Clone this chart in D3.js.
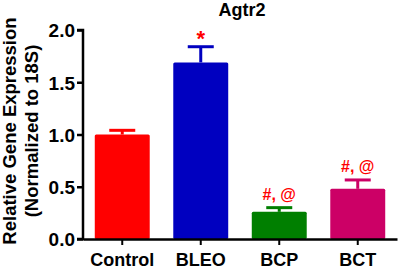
<!DOCTYPE html>
<html>
<head>
<meta charset="utf-8">
<script src="https://cdn.jsdelivr.net/npm/d3@7"></script>
<style>
  body { margin: 0; background: #fff; }
  text { font-family: "Liberation Sans", Arial, sans-serif; font-weight: bold; }
</style>
</head>
<body>
<svg id="chart" width="401" height="271"></svg>
<script>
// Chart data
const groups = ['Control', 'BLEO', 'BCP', 'BCT'];
const means = [1.0, 1.69, 0.26, 0.48];
const errors = [0.04, 0.15, 0.04, 0.085];
const marks = ['', '*', '#, @', '#, @'];
const colors = ['#ff0000', '#0000c0', '#007f00', '#cc0066'];
const yTicks = [0, 0.5, 1.0, 1.5, 2.0];

const svg = d3.select('#chart');
const margin = { left: 83, right: 4, top: 30, bottom: 32 };
const width = 401 - margin.left - margin.right;
const height = 271 - margin.top - margin.bottom;

const g = svg.append('g')
  .attr('transform', `translate(${margin.left},${margin.top})`);

const x = d3.scaleBand()
  .domain(groups)
  .range([0, width])
  .paddingInner(0.3)
  .paddingOuter(0.15);

const y = d3.scaleLinear()
  .domain([0, 2])
  .range([height, 0]);

// Bars
g.selectAll('.bar')
  .data(groups)
  .enter()
  .append('rect')
  .attr('class', 'bar')
  .attr('x', d => x(d))
  .attr('y', (d, i) => y(means[i]))
  .attr('width', x.bandwidth())
  .attr('height', (d, i) => height - y(means[i]))
  .attr('rx', 1.5)
  .attr('fill', (d, i) => colors[i]);

// Error bars (upper only)
const err = g.selectAll('.err')
  .data(groups)
  .enter()
  .append('g')
  .attr('class', 'err')
  .attr('stroke', (d, i) => colors[i])
  .attr('stroke-width', 3);

err.append('line')
  .attr('x1', d => x(d) + x.bandwidth() / 2)
  .attr('x2', d => x(d) + x.bandwidth() / 2)
  .attr('y1', (d, i) => y(means[i]))
  .attr('y2', (d, i) => y(means[i] + errors[i]));

err.append('line')
  .attr('x1', d => x(d) + x.bandwidth() / 2 - 13)
  .attr('x2', d => x(d) + x.bandwidth() / 2 + 13)
  .attr('y1', (d, i) => y(means[i] + errors[i]))
  .attr('y2', (d, i) => y(means[i] + errors[i]));

// Significance marks
g.selectAll('.mark')
  .data(groups)
  .enter()
  .append('text')
  .attr('class', 'mark')
  .attr('x', d => x(d) + x.bandwidth() / 2)
  .attr('y', (d, i) => y(means[i] + errors[i]) - (marks[i] === '*' ? 1 : 8))
  .attr('text-anchor', 'middle')
  .attr('fill', '#ff0000')
  .style('font-size', (d, i) => marks[i] === '*' ? '22px' : '16px')
  .text((d, i) => marks[i]);

// Y axis
const yAxis = g.append('g')
  .call(d3.axisLeft(y).tickValues(yTicks).tickFormat(d3.format('.1f')).tickSize(6).tickPadding(2));
yAxis.select('.domain').attr('stroke-width', 2.5).attr('d', `M-6,0H0V${height}H-6`);
yAxis.selectAll('.tick line').attr('stroke-width', 2.5);
yAxis.selectAll('.tick text')
  .attr('fill', '#000')
  .style('font-size', '19px')
  .attr('dy', '0.36em');

// X axis
const xAxis = g.append('g')
  .attr('transform', `translate(0,${height})`)
  .call(d3.axisBottom(x).tickSize(6).tickSizeOuter(0).tickPadding(5));
xAxis.select('.domain').attr('stroke-width', 2.5);
xAxis.selectAll('.tick line').attr('stroke-width', 2);
xAxis.selectAll('.tick text')
  .attr('fill', '#000')
  .style('font-size', '18px')
  .attr('dy', '0.9em');

// Title
svg.append('text')
  .attr('x', 242)
  .attr('y', 16)
  .attr('text-anchor', 'middle')
  .style('font-size', '18px')
  .text('Agtr2');

// Y axis label
const yl = svg.append('text')
  .attr('transform', `translate(0,131) rotate(-90)`)
  .attr('text-anchor', 'middle')
  .style('font-size', '18.5px');
yl.append('tspan').attr('x', 0).attr('y', 16).text('Relative Gene Expression');
yl.append('tspan').attr('x', 0).attr('y', 38).text('(Normalized to 18S)');
</script>
</body>
</html>
